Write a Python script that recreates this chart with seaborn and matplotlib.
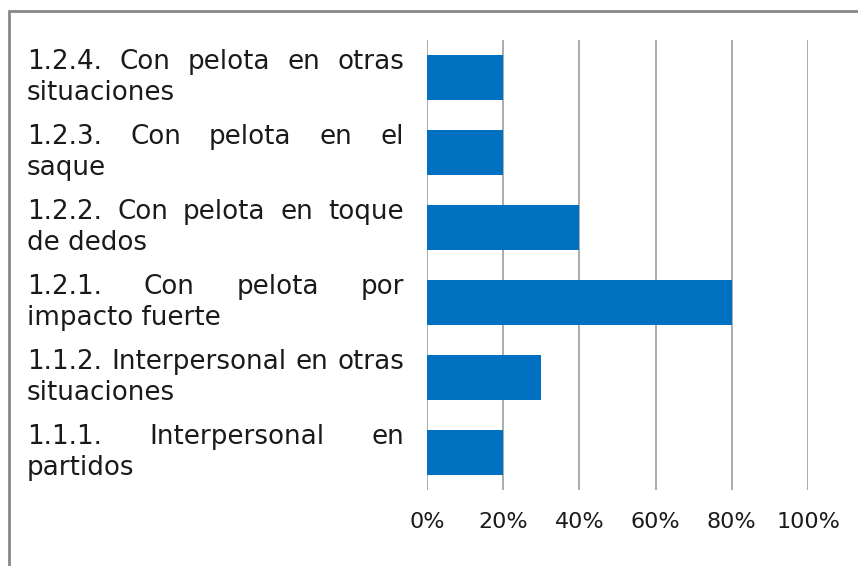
import matplotlib
matplotlib.use("Agg")
import matplotlib.pyplot as plt
import matplotlib.transforms as mtransforms
from matplotlib.patches import Rectangle
import seaborn as sns

# datos
categorias = ["1.2.4", "1.2.3", "1.2.2", "1.2.1", "1.1.2", "1.1.1"]
linea_1 = ["1.2.4. Con pelota en otras",
           "1.2.3. Con pelota en el",
           "1.2.2. Con pelota en toque",
           "1.2.1. Con pelota por",
           "1.1.2. Interpersonal en otras",
           "1.1.1. Interpersonal en"]
linea_2 = ["situaciones", "saque", "de dedos", "impacto fuerte",
           "situaciones", "partidos"]
porcentajes = [20, 20, 40, 80, 30, 20]
ticks = [0, 20, 40, 60, 80, 100]

W, H = 858, 566
fig = plt.figure(figsize=(W / 100, H / 100), dpi=100)
fig.patch.set_facecolor("white")
ax = fig.add_axes([427 / W, 1 - 490 / H, 381 / W, 450 / H])

sns.barplot(x=porcentajes, y=categorias, color="#0070C0", saturation=1,
            width=0.59, ax=ax, zorder=3)

ax.set_xlim(0, 100)
ax.set_xticks(ticks)
ax.set_xticklabels([f"{t}%" for t in ticks], fontsize=16, color="#1a1a1a")
ax.tick_params(axis="x", length=0, pad=16)
ax.set_yticklabels([])
ax.tick_params(axis="y", length=0)
ax.set_ylabel("")
ax.set_xlabel("")
ax.grid(axis="x", color="#ABABAB", lw=1.4, zorder=0)
ax.grid(axis="y", visible=False)
for s in ax.spines.values():
    s.set_visible(False)

# etiquetas justificadas
fig.canvas.draw()
r = fig.canvas.get_renderer()
trans = mtransforms.blended_transform_factory(fig.transFigure, ax.transData)
x0, x1 = 27, 404
fs = 18.8
for i in range(len(categorias)):
    palabras = linea_1[i].split()
    textos = [fig.text(0, 0, p, fontsize=fs, color="#1a1a1a") for p in palabras]
    anchos = [t.get_window_extent(r).width for t in textos]
    hueco = (x1 - x0 - sum(anchos)) / (len(palabras) - 1)
    x = x0
    for t, a in zip(textos, anchos):
        t.set_transform(trans)
        t.set_position((x / W, i - 0.21))
        t.set_va("center")
        x += a + hueco
    fig.text(x0 / W, i + 0.21, linea_2[i], fontsize=fs, color="#1a1a1a",
             va="center", transform=trans)

fig.add_artist(Rectangle((9 / W, -0.1), 1.2, 1 - 11 / H + 0.1,
                         transform=fig.transFigure, fill=False,
                         ec="#878787", lw=2, clip_on=False))

fig.savefig("out.png", dpi=100)
